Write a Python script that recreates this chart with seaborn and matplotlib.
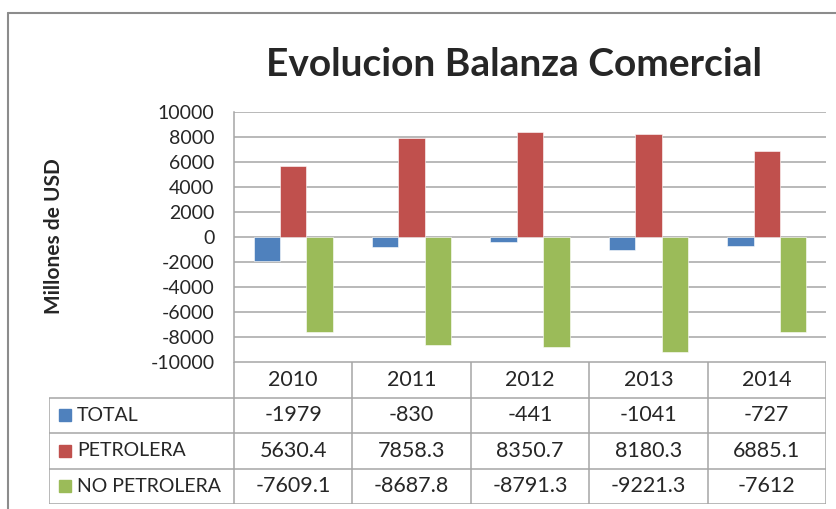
import pandas as pd
import numpy as np
import matplotlib.pyplot as plt
from matplotlib.lines import Line2D
import seaborn as sns

sns.set_style("white")
plt.rcParams['font.family'] = ['Lato', 'DejaVu Sans']
plt.rcParams['axes.unicode_minus'] = False

# ── Data ─────────────────────────────────────────────────────
years = ['2010', '2011', '2012', '2013', '2014']
series = ['TOTAL', 'PETROLERA', 'NO PETROLERA']
total = [-1979, -830, -441, -1041, -727]
petrolera = [5630.4, 7858.3, 8350.7, 8180.3, 6885.1]
no_petrolera = [-7609.1, -8687.8, -8791.3, -9221.3, -7612]
colors = ['#4F81BD', '#C0504D', '#9BBB59']

df = pd.DataFrame({
    'Year': years * 3,
    'Serie': [s for s in series for _ in years],
    'Valor': total + petrolera + no_petrolera,
})

W, H = 837, 509
fig = plt.figure(figsize=(W / 100, H / 100), dpi=100)

def box(x0, y0, x1, y1):
    return [x0 / W, 1 - y1 / H, (x1 - x0) / W, (y1 - y0) / H]

# ── Bars ─────────────────────────────────────────────────────
ax = fig.add_axes(box(234, 111.7, 826, 361.7))
sns.barplot(data=df, x='Year', y='Valor', hue='Serie', order=years,
            hue_order=series, palette=colors, saturation=1, width=0.67,
            ax=ax, legend=False, edgecolor='white', linewidth=0.4)
ax.set_xlim(-0.5, 4.5)
ax.set_ylim(-10000, 10000)
ax.set_yticks(np.arange(-10000, 10001, 2000))
ax.yaxis.grid(True, color='#A6A6A6', linewidth=1.1)
ax.set_axisbelow(True)
ax.set_xticks([])
ax.set_xlabel('')
ax.set_ylabel('')
ax.tick_params(axis='y', length=0, pad=14, labelsize=14)
for s in ['top', 'right', 'bottom']:
    ax.spines[s].set_visible(False)
ax.spines['left'].set_color('#A6A6A6')
ax.spines['left'].set_linewidth(1.1)

fig.text(54 / W, 1 - 236 / H, 'Millones de USD', rotation=90,
         ha='center', va='center', fontsize=15, fontweight='bold')
fig.text(514 / W, 1 - 76 / H, 'Evolucion Balanza Comercial',
         ha='center', va='baseline', fontsize=28, fontweight='bold')

# ── Data table ───────────────────────────────────────────────
unit = (826 - 234) / 5
xleft = -0.5 - (234 - 49) / unit
tb = fig.add_axes(box(49, 362, 826, 504))
tb.set_xlim(xleft, 4.5)
tb.set_ylim(4, 0)
tb.axis('off')
gc = '#A6A6A6'
tb.hlines(0, -0.5, 4.5, color=gc, lw=1.1)
for r in [1, 2, 3, 4]:
    tb.hlines(r, xleft, 4.5, color=gc, lw=1.1)
tb.vlines(xleft, 1, 4, color=gc, lw=1.1)
for k in range(6):
    tb.vlines(-0.5 + k, 0, 4, color=gc, lw=1.1)

for i, y in enumerate(years):
    tb.text(i, 0.5, y, ha='center', va='center', fontsize=15.5)
rows = [total, petrolera, no_petrolera]
for r, (name, vals, c) in enumerate(zip(series, rows, colors)):
    yy = r + 1.5
    tb.plot(xleft + 0.135, yy, marker='s', color=c, markersize=8.5)
    tb.text(xleft + 0.236, yy, name, ha='left', va='center', fontsize=14)
    for i, v in enumerate(vals):
        tb.text(i, yy, f'{v:g}', ha='center', va='center', fontsize=15.5)

# ── Outer frame ──────────────────────────────────────────────
fig.add_artist(Line2D([8 / W, 8 / W], [0, 1 - 13 / H], color='#8C8C8C', lw=1.5,
                      transform=fig.transFigure))
fig.add_artist(Line2D([8 / W, 1], [1 - 13 / H, 1 - 13 / H], color='#8C8C8C', lw=1.5,
                      transform=fig.transFigure))

plt.savefig('out.png', dpi=100)
plt.close()
